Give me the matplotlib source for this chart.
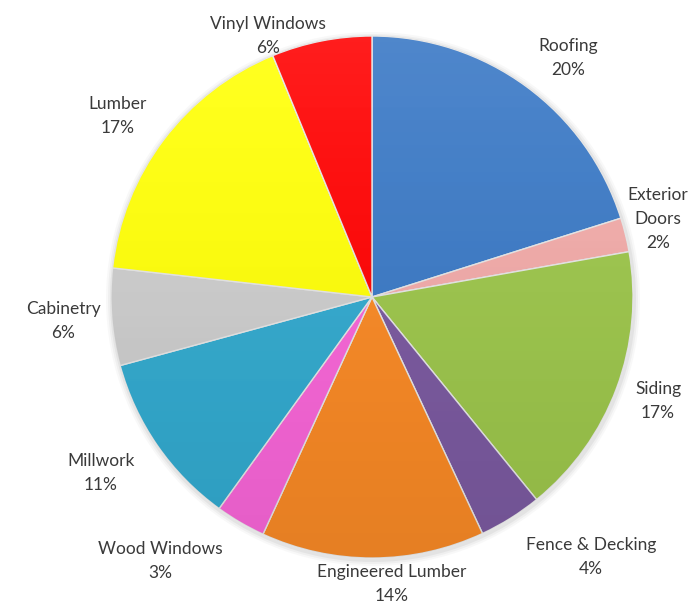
import matplotlib
matplotlib.use("Agg")
import matplotlib.pyplot as plt
import numpy as np

categories = ["Roofing", "Exterior\nDoors", "Siding", "Fence & Decking", "Engineered Lumber",
              "Wood Windows", "Millwork", "Cabinetry", "Lumber", "Vinyl Windows"]
values = [20.1, 2.1, 16.9, 3.9, 13.8, 3.1, 10.8, 6.0, 17.0, 6.2]
colors = ["#3C7AC6", "#F2ABA9", "#9DC64C", "#7B5AA0", "#F98A26",
          "#F866D8", "#33AACF", "#CDCDCD", "#FFFF0A", "#FF0505"]

# label placement: radial distance (in radii) and angular offset (deg) from wedge middle
label_dist = [1.184, 1.136, 1.166, 1.302, 1.102, 1.297, 1.239, 1.187, 1.198, 1.077]
label_dang = [-3.2, 1.5, 0.45, 8.1, 3.8, -8.4, -1.7, 0.0, 1.6, 10.5]

W, H = 692, 604
fig = plt.figure(figsize=(W / 100, H / 100), dpi=100)
ax = fig.add_axes([0, 0, 1, 1])

cx, cy, R = 372, H - 297, 261

# soft shadow halo
for k, a in [(6, 0.05), (4, 0.07), (2, 0.10)]:
    ax.add_patch(plt.Circle((cx + 1, cy - 2), R + k, color="#808080", alpha=a, lw=0, zorder=0))

wedges, _ = ax.pie(values, colors=colors, startangle=90, counterclock=False,
                   center=(cx, cy), radius=R, frame=True,
                   wedgeprops=dict(edgecolor="#E6E6E6", linewidth=1.0))

# subtle vertical shading gradient over the pie
grad = np.linspace(0, 1, 256)
rgba = np.zeros((256, 1, 4))
rgba[:, 0, 3] = 0.08 * grad ** 1.5  # darker toward bottom
im = ax.imshow(rgba, extent=(cx - R, cx + R, cy - R, cy + R), origin="upper",
               aspect="auto", zorder=3, interpolation="bilinear")
im.set_clip_path(plt.Circle((cx, cy), R, transform=ax.transData))
rgba2 = np.ones((256, 1, 4))
rgba2[:, 0, 3] = 0.10 * (1 - grad) ** 2
im2 = ax.imshow(rgba2, extent=(cx - R, cx + R, cy - R, cy + R), origin="upper",
                aspect="auto", zorder=3, interpolation="bilinear")
im2.set_clip_path(plt.Circle((cx, cy), R, transform=ax.transData))
ax.set_xlim(0, W)
ax.set_ylim(0, H)
ax.axis("off")

for w, name, v, d, da in zip(wedges, categories, values, label_dist, label_dang):
    mid = np.deg2rad((w.theta1 + w.theta2) / 2 + da)
    x = cx + d * R * np.cos(mid)
    y = cy + d * R * np.sin(mid)
    ax.text(x, y, f"{name}\n{round(v)}%", ha="center", va="center",
            fontsize=12.5, family="Lato", color="#3A3A3A", linespacing=1.62, zorder=5)

fig.savefig("out.png", dpi=100)
